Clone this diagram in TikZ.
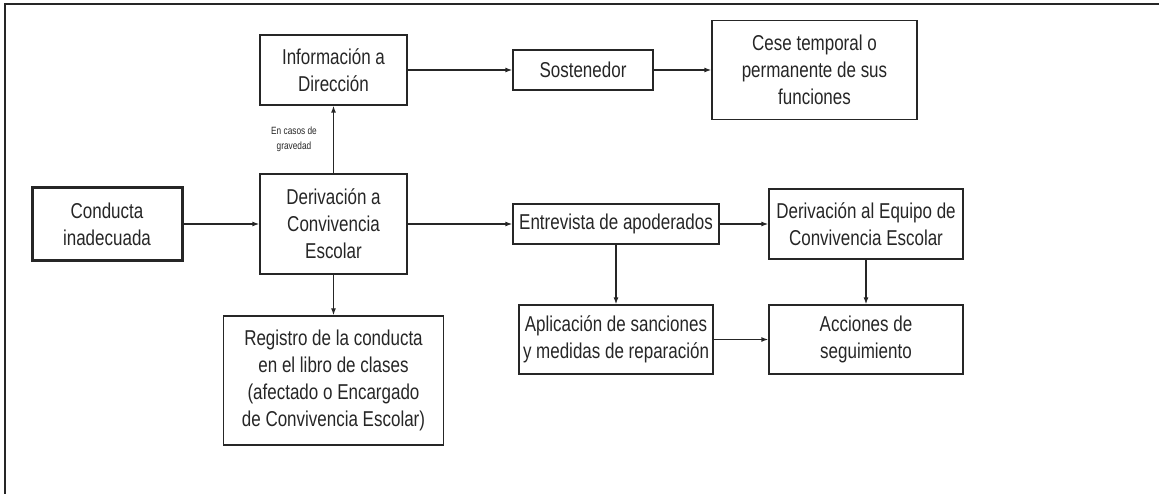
\documentclass[tikz,border=0pt]{standalone}
\usepackage{fontspec}
\setmainfont{Liberation Sans}[FakeStretch=0.79]
\usetikzlibrary{arrows.meta}
\definecolor{ink}{HTML}{262626}

\begin{document}
\begin{tikzpicture}[x=1pt, y=-1pt,
	box/.style={draw=ink, line width=1.3pt, align=center, inner sep=0pt, text=ink,
		font=\fontsize{21.5}{27}\selectfont},
	flow/.style={draw=ink, line width=1.3pt, -{Latex[length=7pt,width=5pt]}},
	note/.style={font=\fontsize{10.5}{14.5}\selectfont, align=center, inner sep=0pt, text=ink}]
\useasboundingbox (0,0) rectangle (1159,494);
\draw[ink, line width=1.3pt] (5,494) -- (5,4) -- (1159,4);
\node[box, line width=3pt, minimum width=150pt, minimum height=73pt] (cond) at (107,224) {Conducta\\inadecuada};
\node[box, minimum width=147pt, minimum height=100pt] (deriv) at (333.5,224) {Derivación a\\Convivencia\\Escolar};
\node[box, minimum width=147pt, minimum height=70pt] (info) at (333.5,70) {Información a\\Dirección};
\node[box, minimum width=140pt, minimum height=40pt] (sost) at (583,70) {Sostenedor};
\node[box, minimum width=205pt, minimum height=99pt] (cese) at (814.5,70) {Cese temporal o\\permanente de sus\\funciones};
\node[box, minimum width=206pt, minimum height=40pt] (entr) at (616,224) {Entrevista de apoderados};
\node[box, minimum width=194pt, minimum height=70pt] (equipo) at (866,224) {Derivación al Equipo de\\Convivencia Escolar};
\node[box, minimum width=220pt, minimum height=129pt] (reg) at (333.5,380.5) {Registro de la conducta\\en el libro de clases\\(afectado o Encargado\\de Convivencia Escolar)};
\node[box, minimum width=194pt, minimum height=69pt] (apl) at (616,339.5) {Aplicación de sanciones\\y medidas de reparación};
\node[box, minimum width=194pt, minimum height=69pt] (acc) at (866,339.5) {Acciones de\\seguimiento};
\draw[flow] (cond) -- (deriv);
\draw[flow] (deriv) -- node[note, left=16pt] {En casos de\\gravedad} (info);
\draw[flow] (deriv) -- (reg);
\draw[flow] (info) -- (sost);
\draw[flow] (sost) -- (cese);
\draw[flow] (deriv) -- (entr);
\draw[flow] (entr) -- (equipo);
\draw[flow] (entr) -- (apl);
\draw[flow] (equipo) -- (acc);
\draw[flow] (apl) -- (acc);
\end{tikzpicture}
\end{document}
